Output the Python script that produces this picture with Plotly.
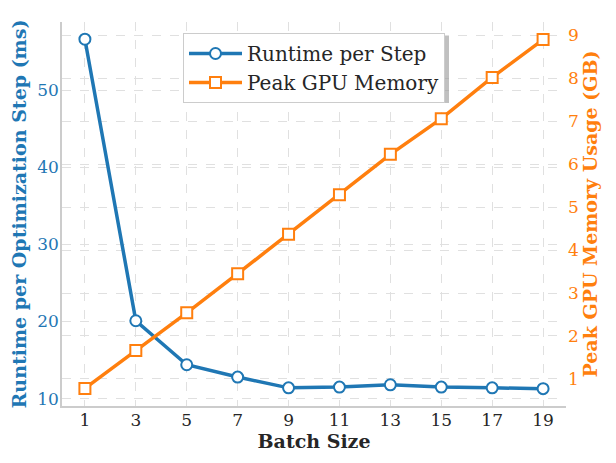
import plotly.graph_objects as go

batch_sizes = [1, 3, 5, 7, 9, 11, 13, 15, 17, 19]
runtime_ms = [56.6, 20.1, 14.4, 12.8, 11.4, 11.5, 11.8, 11.5, 11.4, 11.3]
memory_gb = [0.78, 1.66, 2.54, 3.45, 4.37, 5.29, 6.23, 7.06, 8.02, 8.9]
left_ticks = [10, 20, 30, 40, 50]
right_ticks = [1, 2, 3, 4, 5, 6, 7, 8, 9]

BLUE = "#1f77b4"
ORANGE = "#ff7f0e"
FONT = "DejaVu Serif"
GRID = "#e0e0e0"

# the page adds an 8px body margin, so the figure is 600x447 inside 616x463
W, H = 600, 447
L, R, T, B = 54, 42, 14, 49
PW, PH = W - L - R, H - T - B

def px_x(p):
    return (p - L) / PW

def px_y(p):
    return (H - B - p) / PH

fig = go.Figure()
fig.add_trace(go.Scatter(
    x=batch_sizes, y=runtime_ms, name="Runtime per Step", mode="lines+markers",
    line=dict(color=BLUE, width=3.5),
    marker=dict(symbol="circle", size=11, color="white", line=dict(color=BLUE, width=2)),
    yaxis="y",
))
fig.add_trace(go.Scatter(
    x=batch_sizes, y=memory_gb, name="Peak GPU Memory", mode="lines+markers",
    line=dict(color=ORANGE, width=3.5),
    marker=dict(symbol="square", size=11, color="white", line=dict(color=ORANGE, width=2)),
    yaxis="y2",
))

# legend drop shadow
fig.add_shape(type="rect", xref="paper", yref="paper",
              x0=px_x(178), x1=px_x(441), y0=px_y(95), y1=px_y(28),
              line=dict(width=0), fillcolor="rgba(150,150,150,0.6)", layer="above")

fig.update_layout(
    width=W, height=H,
    margin=dict(l=L, r=R, t=T, b=B),
    paper_bgcolor="white", plot_bgcolor="white",
    font=dict(family=FONT, color="#333333"),
    xaxis=dict(
        range=[0.1, 19.9], tickvals=batch_sizes, automargin=False,
        showline=True, linecolor="#cccccc", linewidth=1.5,
        showgrid=True, gridcolor=GRID, griddash="dash", gridwidth=1,
        zeroline=False, ticks="", ticklabelstandoff=-2,
        tickfont=dict(size=17, color="#262626", family=FONT),
        title=dict(text="<b>Batch Size</b>", font=dict(size=19, color="#262626", family=FONT), standoff=4),
    ),
    yaxis=dict(
        range=[9.05, 58.83], tickvals=left_ticks, automargin=False,
        showline=True, linecolor="#cccccc", linewidth=1.5,
        showgrid=True, gridcolor=GRID, griddash="dash", gridwidth=1,
        zeroline=False, ticks="", ticklabelstandoff=-2,
        tickfont=dict(size=17, color=BLUE, family=FONT),
        title=dict(text="<b>Runtime per Optimization Step (ms)</b>", font=dict(size=19, color=BLUE, family=FONT), standoff=14),
    ),
    yaxis2=dict(
        range=[0.37, 9.31], tickvals=right_ticks, overlaying="y", side="right", automargin=False,
        showline=False,
        showgrid=True, gridcolor=GRID, griddash="dash", gridwidth=1,
        zeroline=False, ticks="", ticklabelstandoff=1,
        tickfont=dict(size=17, color=ORANGE, family=FONT),
        title=dict(text="<b>Peak GPU Memory Usage (GB)</b>", font=dict(size=19, color=ORANGE, family=FONT), standoff=5),
    ),
    legend=dict(
        x=px_x(175), y=px_y(25), xanchor="left", yanchor="top",
        bgcolor="white", bordercolor="#cccccc", borderwidth=1,
        itemwidth=53,
        font=dict(size=20, color="#262626", family=FONT),
    ),
    showlegend=True,
)

fig.write_html("out.html")
